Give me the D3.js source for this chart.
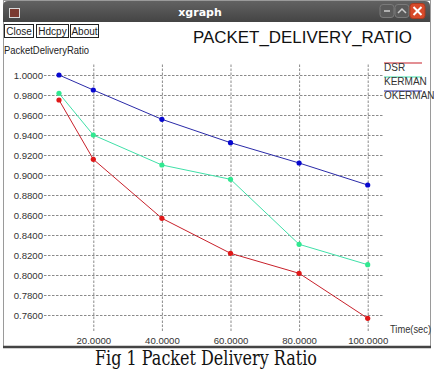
<!DOCTYPE html>
<html>
<head>
<meta charset="utf-8">
<script src="https://cdn.jsdelivr.net/npm/d3@7"></script>
<style>
  body { margin: 0; background: #fff; }
  svg { display: block; font-family: "Liberation Sans", Arial, sans-serif; }
</style>
</head>
<body>
<div id="chart-area"></div>
<script>
// Data
var times = [10, 20, 40, 60, 80, 100];
var dsr = [0.975, 0.9157, 0.8567, 0.8217, 0.8017, 0.7567];
var kerman = [0.9817, 0.940, 0.910, 0.8957, 0.8307, 0.8103];
var okerman = [1.000, 0.985, 0.9557, 0.9323, 0.912, 0.890];
var seriesNames = ["DSR", "KERMAN", "OKERMAN"];
var seriesColors = ["#c8202a", "#40e0a8", "#2a2aa8"];
var markerColors = ["#e01818", "#30e890", "#0808d0"];
var xTicks = [20, 40, 60, 80, 100];
var yTicks = [0.76, 0.78, 0.80, 0.82, 0.84, 0.86, 0.88, 0.90, 0.92, 0.94, 0.96, 0.98, 1.0];

var W = 434, H = 372;
var svg = d3.select("#chart-area").append("svg")
  .attr("width", W).attr("height", H);

// window frame
svg.append("rect").attr("x", 3.5).attr("y", 0.5).attr("width", 427).attr("height", 346)
  .attr("fill", "#fff").attr("stroke", "#9a9a9a");
svg.append("line").attr("x1", 3).attr("x2", 431).attr("y1", 347).attr("y2", 347)
  .attr("stroke", "#444").attr("stroke-width", 2.5);

// title bar
var grad = svg.append("defs").append("linearGradient").attr("id", "tb")
  .attr("x1", 0).attr("x2", 0).attr("y1", 0).attr("y2", 1);
grad.append("stop").attr("offset", "0%").attr("stop-color", "#626262");
grad.append("stop").attr("offset", "100%").attr("stop-color", "#444");
svg.append("path")
  .attr("d", "M3,22 L3,6 Q3,1 8,1 L425,1 Q430,1 430,6 L430,22 Z")
  .attr("fill", "url(#tb)");
svg.append("rect").attr("x", 9.5).attr("y", 8.5).attr("width", 10).attr("height", 9)
  .attr("fill", "#7a3a30").attr("stroke", "#d8d8d8");
svg.append("text").attr("x", 200).attr("y", 16).attr("text-anchor", "middle")
  .attr("fill", "#fff").attr("font-weight", "bold").attr("font-size", 11)
  .attr("font-family", "DejaVu Sans, sans-serif").text("xgraph");
[380, 395].forEach(function (bx) {
  svg.append("rect").attr("x", bx).attr("y", 4.5).attr("width", 14).attr("height", 13).attr("rx", 3)
    .attr("fill", "#5a5a5a").attr("stroke", "#7a7a7a");
});
svg.append("line").attr("x1", 384).attr("x2", 390).attr("y1", 11).attr("y2", 11).attr("stroke", "#ccc").attr("stroke-width", 1.5);
svg.append("path").attr("d", "M398,13 L402,9 L406,13").attr("fill", "none").attr("stroke", "#ccc").attr("stroke-width", 1.5);
svg.append("rect").attr("x", 410).attr("y", 3.5).attr("width", 15).attr("height", 15).attr("rx", 3)
  .attr("fill", "#d84a2a").attr("stroke", "#a83a20");
svg.append("path").attr("d", "M413.5,7 L421.5,15 M421.5,7 L413.5,15").attr("stroke", "#fff").attr("stroke-width", 2);

// buttons
var buttons = [["Close", 4, 29], ["Hdcpy", 36, 32], ["About", 70, 28]];
buttons.forEach(function (b) {
  svg.append("rect").attr("x", b[1] + 0.5).attr("y", 24.5).attr("width", b[2]).attr("height", 13)
    .attr("fill", "#fff").attr("stroke", "#222");
  svg.append("text").attr("x", b[1] + 0.5 + b[2] / 2).attr("y", 34.5).attr("text-anchor", "middle")
    .attr("font-size", 10).attr("fill", "#222").text(b[0]);
});

svg.append("text").attr("x", 193).attr("y", 43).attr("font-size", 17)
  .attr("textLength", 219).attr("lengthAdjust", "spacingAndGlyphs")
  .attr("fill", "#111").text("PACKET_DELIVERY_RATIO");
svg.append("text").attr("x", 4).attr("y", 54).attr("font-size", 10)
  .attr("textLength", 85).attr("lengthAdjust", "spacingAndGlyphs")
  .attr("fill", "#222").text("PacketDeliveryRatio");

// scales
var x = d3.scaleLinear().domain([0, 100]).range([24.7, 367.7]);
var y = d3.scaleLinear().domain([0.76, 1.0]).range([315, 75]);

var gridLeft = 44, gridRight = 383, gridTop = 63, gridBottom = 331;

var yAxis = svg.append("g").attr("transform", "translate(" + gridLeft + ",0)")
  .call(d3.axisLeft(y).tickValues(yTicks).tickFormat(d3.format(".4f"))
    .tickSize(-(gridRight - gridLeft)).tickPadding(1));
var xAxis = svg.append("g").attr("transform", "translate(0," + gridBottom + ")")
  .call(d3.axisBottom(x).tickValues(xTicks).tickFormat(d3.format(".4f"))
    .tickSize(-(gridBottom - gridTop)).tickPadding(6));
[xAxis, yAxis].forEach(function (ax) {
  ax.select(".domain").remove();
  ax.selectAll(".tick line").attr("stroke", "#8a8a8a").attr("stroke-dasharray", "2.5,1.5");
  ax.selectAll(".tick text").attr("font-size", 9.6).attr("fill", "#333")
    .attr("font-family", "Liberation Sans, Arial, sans-serif");
});

svg.append("text").attr("x", 390).attr("y", 333).attr("font-size", 10)
  .attr("textLength", 41).attr("lengthAdjust", "spacingAndGlyphs")
  .attr("fill", "#333").text("Time(sec)");

// series
var allSeries = [dsr, kerman, okerman];
var line = d3.line().x(function (d, i) { return x(times[i]); }).y(function (d) { return y(d); });
allSeries.forEach(function (s, k) {
  svg.append("path").datum(s).attr("d", line)
    .attr("fill", "none").attr("stroke", seriesColors[k]).attr("stroke-width", 1);
  svg.selectAll(".m" + k).data(s).enter().append("circle")
    .attr("cx", function (d, i) { return x(times[i]); })
    .attr("cy", function (d) { return y(d); })
    .attr("r", 2.6).attr("fill", markerColors[k]);
});

// legend
var legendY = [63, 77, 91];
seriesNames.forEach(function (n, k) {
  svg.append("line").attr("x1", 384).attr("x2", 422).attr("y1", legendY[k]).attr("y2", legendY[k])
    .attr("stroke", seriesColors[k]).attr("stroke-width", 1.2);
  svg.append("text").attr("x", 384).attr("y", legendY[k] + 8).attr("font-size", 10)
    .attr("fill", "#333").text(n);
});

// caption
svg.append("text").attr("x", 95).attr("y", 365).attr("font-size", 21)
  .attr("textLength", 222).attr("lengthAdjust", "spacingAndGlyphs")
  .attr("font-family", "DejaVu Serif, serif").attr("fill", "#111")
  .text("Fig 1 Packet Delivery Ratio");
</script>
</body>
</html>
